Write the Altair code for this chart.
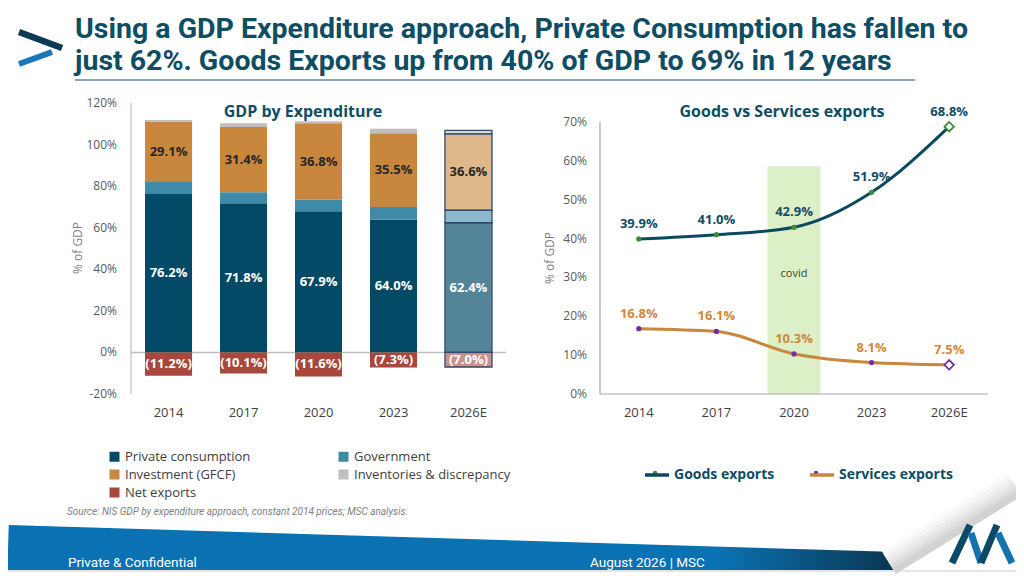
import altair as alt
import pandas as pd

# ---------------- data ----------------
years = ["2014", "2017", "2020", "2023", "2026E"]
private_consumption = [76.2, 71.8, 67.9, 64.0, 62.4]
government = [5.8, 5.3, 5.5, 6.0, 6.1]
investment = [29.1, 31.4, 36.8, 35.5, 36.6]
inventories = [0.7, 1.8, 1.0, 2.1, 1.7]
net_exports = [-11.2, -10.1, -11.6, -7.3, -7.0]

goods_exports = [39.9, 41.0, 42.9, 51.9, 68.8]
services_exports = [16.8, 16.1, 10.3, 8.1, 7.5]

left_ticks = [-20, 0, 20, 40, 60, 80, 100, 120]
right_ticks = [0, 10, 20, 30, 40, 50, 60, 70]

covid_year = "2020"
covid_top = 58.6
covid_label_level = 31

components = ["Private consumption", "Government", "Investment (GFCF)",
              "Inventories & discrepancy", "Net exports"]
component_colors = ["#034A66", "#3F8AA8", "#C8873C", "#BFBFBF", "#A8483D"]
# legend is filled column by column: this order shows the entries row by row
legend_order = ["Private consumption", "Investment (GFCF)", "Net exports",
                "Government", "Inventories & discrepancy"]
series_names = ["Goods exports", "Services exports"]
series_colors = ["#0B4A5E", "#C8873C"]

title_lines = ["Using a GDP Expenditure approach, Private Consumption has fallen to",
               "just 62%. Goods Exports up from 40% of GDP to 69% in 12 years"]
source_text = "Source: NIS GDP by expenditure approach, constant 2014 prices; MSC analysis."

# ---------------- tables ----------------
bar_rows = []
lab_rows = []
for i, yr in enumerate(years):
    base = 0.0
    for comp, vals in zip(components[:4], [private_consumption, government, investment, inventories]):
        v = vals[i]
        bar_rows.append({"year": yr, "component": comp, "lo": base, "hi": base + v})
        base += v
    bar_rows.append({"year": yr, "component": "Net exports", "lo": net_exports[i], "hi": 0.0})
    p, g, inv, ne = private_consumption[i], government[i], investment[i], net_exports[i]
    lab_rows.append({"year": yr, "kind": "p", "mid": p / 2, "label": f"{p:.1f}%"})
    lab_rows.append({"year": yr, "kind": "inv", "mid": p + g + inv / 2, "label": f"{inv:.1f}%"})
    lab_rows.append({"year": yr, "kind": "ne", "mid": ne / 2, "label": f"({abs(ne):.1f}%)"})
bar_df = pd.DataFrame(bar_rows)
bar_df["fo"] = [(0.68 if c == "Private consumption" else 0.6) if y == "2026E" else 1.0
                for y, c in zip(bar_df["year"], bar_df["component"])]
lab_df = pd.DataFrame(lab_rows)

exp_rows = []
for name, vals in zip(series_names, [goods_exports, services_exports]):
    for yr, v in zip(years, vals):
        exp_rows.append({"year": yr, "series": name, "value": v, "label": f"{v:.1f}%"})
exp_df = pd.DataFrame(exp_rows)

covid_df = pd.DataFrame({"year": [covid_year], "bottom": [0.0], "top": [covid_top],
                         "ly": [covid_label_level], "label": ["covid"]})
left_tick_df = pd.DataFrame({"tick": left_ticks, "label": [f"{t}%" for t in left_ticks]})
right_tick_df = pd.DataFrame({"tick": right_ticks, "label": [f"{t}%" for t in right_ticks]})
year_df = pd.DataFrame({"year": years})
left_span = pd.DataFrame({"lo": [left_ticks[0]], "hi": [left_ticks[-1]], "z": [0.0]})
right_span = pd.DataFrame({"lo": [right_ticks[0]], "hi": [right_ticks[-1]], "z": [0.0]})
one = pd.DataFrame({"k": [0]})

FONT = "Open Sans"
HEAD = "Roboto"
TEAL = "#0E4D64"

# ---------------- left chart ----------------
x_left_scale = alt.Scale(domain=years, range=[123, 498], paddingInner=0.373, paddingOuter=0.187)
y_left_scale = alt.Scale(domain=[-20, 120], range=[386, 95], nice=False, zero=False)

left_domain = alt.Chart(left_span).mark_rule(color="#BFBFBF", strokeWidth=1.2).encode(
    y=alt.Y("lo:Q", scale=y_left_scale, axis=None), y2="hi:Q", x=alt.value(123))
zero_rule = alt.Chart(left_span).mark_rule(color="#BFBFBF", strokeWidth=1.5).encode(
    y=alt.Y("z:Q", scale=y_left_scale, axis=None), x=alt.value(123), x2=alt.value(498))
left_ylabels = alt.Chart(left_tick_df).mark_text(align="right", baseline="middle", fontSize=12,
                                                 color="#595959").encode(
    y=alt.Y("tick:Q", scale=y_left_scale, axis=None), x=alt.value(109), text="label:N")
left_xlabels = alt.Chart(year_df).mark_text(align="center", baseline="middle", fontSize=13,
                                            color="#404040").encode(
    x=alt.X("year:N", scale=x_left_scale, axis=None), y=alt.value(405), text="year:N")

bars = alt.Chart(bar_df).mark_bar(stroke="#2F4A72").encode(
    x=alt.X("year:N", scale=x_left_scale, axis=None),
    y=alt.Y("lo:Q", scale=y_left_scale, axis=None),
    y2="hi:Q",
    color=alt.Color("component:N",
                    scale=alt.Scale(domain=legend_order,
                                    range=[component_colors[components.index(c)] for c in legend_order]),
                    legend=alt.Legend(orient="none", legendX=100, legendY=442, columns=2,
                                      columnPadding=86, rowPadding=4, title=None, padding=0,
                                      symbolType="square", symbolSize=100, symbolStrokeWidth=0,
                                      symbolOpacity=1, labelOffset=4, labelFontSize=13,
                                      labelColor="#404040", labelFont=FONT)),
    fillOpacity=alt.FillOpacity("fo:Q", scale=None),
    strokeWidth=alt.condition("datum.year == '2026E'", alt.value(1.3), alt.value(0)),
)

bar_labels = alt.Chart(lab_df).mark_text(fontSize=13, fontWeight="bold", baseline="middle").encode(
    x=alt.X("year:N", scale=x_left_scale, axis=None),
    y=alt.Y("mid:Q", scale=y_left_scale, axis=None),
    text="label:N",
    color=alt.condition("datum.kind == 'inv'", alt.value("#262626"), alt.value("#FFFFFF")),
)

left = alt.layer(left_domain, zero_rule, bars, bar_labels, left_ylabels, left_xlabels)

# ---------------- right chart ----------------
x_right_scale = alt.Scale(type="point", domain=years, range=[592, 980], padding=0.5)
y_right_scale = alt.Scale(domain=[0, 70], range=[386, 114], nice=False)

covid_bar = alt.Chart(covid_df).mark_bar(size=53, color="#DDEFC6").encode(
    x=alt.X("year:N", scale=x_right_scale, axis=None),
    y=alt.Y("bottom:Q", scale=y_right_scale, axis=None),
    y2="top:Q")
covid_text = alt.Chart(covid_df).mark_text(fontSize=11, color="#404040").encode(
    x=alt.X("year:N", axis=None), y=alt.Y("ly:Q", axis=None), text="label:N")

right_ydomain = alt.Chart(right_span).mark_rule(color="#A6A6A6", strokeWidth=1.2).encode(
    y=alt.Y("lo:Q", axis=None), y2="hi:Q", x=alt.value(592))
right_xdomain = alt.Chart(right_span).mark_rule(color="#A6A6A6", strokeWidth=1.2).encode(
    y=alt.Y("z:Q", axis=None), x=alt.value(592), x2=alt.value(980))
right_ylabels = alt.Chart(right_tick_df).mark_text(align="right", baseline="middle", fontSize=12,
                                                   color="#595959").encode(
    y=alt.Y("tick:Q", axis=None), x=alt.value(579), text="label:N")
right_xlabels = alt.Chart(year_df).mark_text(align="center", baseline="middle", fontSize=13,
                                             color="#404040").encode(
    x=alt.X("year:N", axis=None), y=alt.value(405), text="year:N")

cond_series = "datum.series == 'Goods exports'"
lines = alt.Chart(exp_df).mark_line(strokeWidth=3, interpolate="monotone").encode(
    x=alt.X("year:N", axis=None),
    y=alt.Y("value:Q", axis=None),
    color=alt.Color("series:N", scale=alt.Scale(domain=series_names, range=series_colors),
                    legend=alt.Legend(orient="none", legendX=635, legendY=453, direction="horizontal",
                                      title=None, padding=0, symbolType="stroke", symbolSize=576,
                                      symbolStrokeWidth=3.5, labelOffset=3, columnPadding=28,
                                      labelFontSize=14, labelFontWeight="bold", labelColor=TEAL,
                                      labelFont=FONT)),
)
dots = alt.Chart(exp_df).transform_filter("datum.year != '2026E'").mark_circle(size=28, opacity=1).encode(
    x=alt.X("year:N", axis=None), y=alt.Y("value:Q", axis=None),
    color=alt.condition(cond_series, alt.value("#3D8B37"), alt.value("#7030A0")))
diamonds = alt.Chart(exp_df).transform_filter("datum.year == '2026E'").mark_point(
    shape="diamond", size=90, filled=True, fill="white", strokeWidth=1.8, opacity=1).encode(
    x=alt.X("year:N", axis=None), y=alt.Y("value:Q", axis=None),
    stroke=alt.condition(cond_series, alt.value("#3D8B37"), alt.value("#7030A0")))
exp_labels = alt.Chart(exp_df).mark_text(fontSize=13, fontWeight="bold", dy=-15).encode(
    x=alt.X("year:N", axis=None), y=alt.Y("value:Q", axis=None), text="label:N",
    color=alt.condition(cond_series, alt.value(TEAL), alt.value("#D0883A")))

right = alt.layer(covid_bar, covid_text, right_ydomain, right_xdomain, right_ylabels, right_xlabels,
                  lines, dots, diamonds, exp_labels)

# ---------------- decoration ----------------
def seg(x1, y1, x2, y2, color, w, **kw):
    return alt.Chart(one).mark_rule(stroke=color, strokeWidth=w, **kw).encode(
        x=alt.value(x1), y=alt.value(y1), x2=alt.value(x2), y2=alt.value(y2))

def txt(s, x, y, **kw):
    return alt.Chart(one).mark_text(text=s, **kw).encode(x=alt.value(x), y=alt.value(y))

band_grad = alt.LinearGradient(gradient="linear", x1=0, x2=1, y1=0, y2=0, stops=[
    alt.GradientStop(color="#0A72B2", offset=0),
    alt.GradientStop(color="#0A72B2", offset=0.8),
    alt.GradientStop(color="#0B3550", offset=1)])

# page-curl shadow: overlapping parallel strokes, lightest (outermost) drawn first
curl = []
shades = ["#D2D2D2", "#DCDCDC", "#E5E5E5", "#EDEDED", "#F4F4F4", "#FAFAFA"]
for k in reversed(range(len(shades))):
    dx, dy = -2.1 * k, -3.4 * k
    curl.append(seg(886 + dx, 563 + dy, 1012 + dx, 485 + dy, shades[k], 7))

decor = [
    # header
    seg(11, 24, 54, 40, "#0B3A52", 6.5),
    seg(44, 44, 11, 56, "#1A75BB", 6),
    txt(title_lines[0], 67, 30, font=HEAD, fontSize=28.5, fontWeight="bold", color=TEAL,
        align="left", baseline="alphabetic"),
    txt(title_lines[1], 67, 62, font=HEAD, fontSize=28.5, fontWeight="bold", color=TEAL,
        align="left", baseline="alphabetic"),
    seg(67, 72, 907, 72, "#1F4E6B", 1),
    # panel titles and axis titles
    txt("GDP by Expenditure", 295, 104, fontSize=16, fontWeight="bold", color=TEAL, align="center",
        baseline="middle"),
    txt("Goods vs Services exports", 774, 104, fontSize=16, fontWeight="bold", color=TEAL,
        align="center", baseline="middle"),
    txt("% of GDP", 70, 240, fontSize=12, color="#7F7F7F", angle=270, align="center",
        baseline="middle"),
    txt("% of GDP", 542, 250, fontSize=12, color="#7F7F7F", angle=270, align="center",
        baseline="middle"),
    # legend dots
    alt.Chart(one).mark_circle(size=20, color="#3D8B37", opacity=1).encode(x=alt.value(647), y=alt.value(465)),
    alt.Chart(one).mark_circle(size=20, color="#7030A0", opacity=1).encode(x=alt.value(808), y=alt.value(465)),
    # source
    txt(source_text, 59, 507, font=HEAD, fontSize=10, fontStyle="italic", color="#808080",
        align="left", baseline="alphabetic"),
    # footer band
    seg(0, 542, 889, 569, band_grad, 50),
    alt.Chart(one).mark_rect(color="white").encode(x=alt.value(0), x2=alt.value(1008),
                                                   y=alt.value(562), y2=alt.value(566)),
    seg(0, 563, 1008, 563, "#DDDDDD", 1.5),
] + curl + [
    txt("Private & Confidential", 60, 555, font=HEAD, fontSize=13.5, color="white", align="left",
        baseline="middle"),
    txt("August 2026 | MSC", 582, 555, font=HEAD, fontSize=13.5, color="white", align="left",
        baseline="middle"),
    # logo
    seg(944, 555, 962, 517, "#0B4A66", 7),
    seg(963, 525, 973, 555, "#1273B0", 7),
    seg(973, 555, 989, 517, "#0B4A66", 7),
    seg(990, 525, 1004, 555, "#1273B0", 7),
]

chart = alt.layer(left, right, *decor).resolve_scale(
    x="independent", y="independent", color="independent"
).resolve_legend(color="independent").properties(
    width=1008, height=566, padding=0, background="white",
    autosize=alt.AutoSizeParams(type="none"),
).configure(font=FONT).configure_view(stroke=None)

chart.save("out.html", embed_options={"renderer": "svg", "actions": False})
